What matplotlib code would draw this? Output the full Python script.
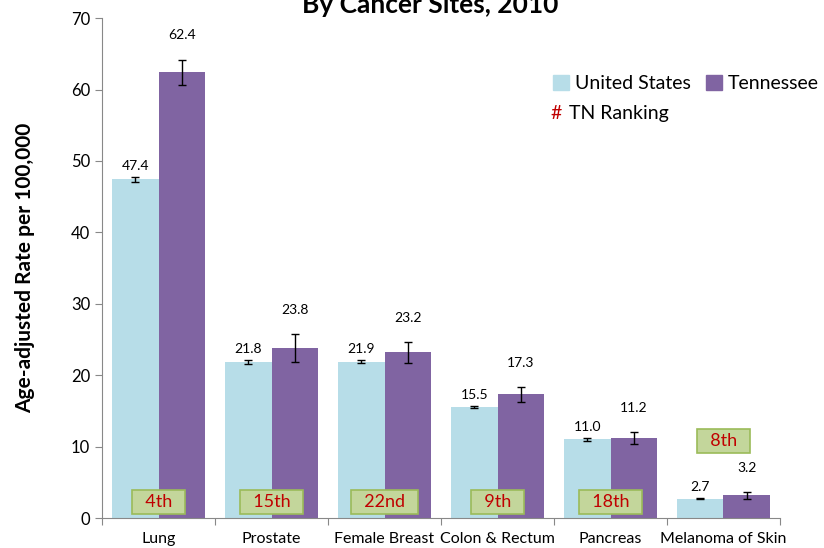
import matplotlib.pyplot as plt
import numpy as np
from matplotlib.patches import Patch

plt.rcParams['font.family'] = ['Lato', 'DejaVu Sans']

sites = ['Lung', 'Prostate', 'Female Breast', 'Colon & Rectum', 'Pancreas', 'Melanoma of Skin']
us_rate = [47.4, 21.8, 21.9, 15.5, 11.0, 2.7]
us_err = [0.3, 0.3, 0.2, 0.15, 0.15, 0.05]
tn_rate = [62.4, 23.8, 23.2, 17.3, 11.2, 3.2]
tn_err = [1.8, 2.0, 1.5, 1.1, 0.8, 0.5]
tn_rank = ['4th', '15th', '22nd', '9th', '18th', '8th']

us_color = '#B7DDE8'
tn_color = '#8064A2'

fig = plt.figure(figsize=(8.24, 5.48), dpi=100)
ax = fig.add_axes([0.1238, 0.0547, 0.8228, 0.9123])

x = np.arange(len(sites))
w = 0.41
ax.bar(x - w/2, us_rate, w, color=us_color, yerr=us_err, capsize=3,
       error_kw=dict(ecolor='black', elinewidth=1, capthick=1))
ax.bar(x + w/2, tn_rate, w, color=tn_color, yerr=tn_err, capsize=3,
       error_kw=dict(ecolor='black', elinewidth=1, capthick=1))

for i in range(len(sites)):
    ax.annotate(f'{us_rate[i]:.1f}', (x[i] - w/2, us_rate[i] + us_err[i]),
                xytext=(0, 4), textcoords='offset points', ha='center', va='bottom', fontsize=10)
    ax.annotate(f'{tn_rate[i]:.1f}', (x[i] + w/2, tn_rate[i] + tn_err[i]),
                xytext=(0, 13), textcoords='offset points', ha='center', va='bottom', fontsize=10)

# TN ranking boxes (melanoma one sits above the bars)
for i, r in enumerate(tn_rank):
    yb = 10.85 if i == len(sites) - 1 else 2.2
    ax.text(x[i], yb, '  ' + r + '  ', ha='center', va='center', color='#C00000', fontsize=13,
            bbox=dict(boxstyle='square,pad=0.22', fc='#C3D69B', ec='#9BBB59', lw=1.2))

ax.set_xlim(-0.5, len(sites) - 0.5)
ax.set_ylim(0, 70)
ax.set_yticks(range(0, 71, 10))
ax.set_xticks(np.arange(-0.5, len(sites), 1))
ax.set_xticklabels([])
ax.set_xticks(x, minor=True)
ax.set_xticklabels(sites, minor=True, fontsize=11.5)
ax.tick_params(axis='x', which='minor', length=0, pad=10)
ax.tick_params(axis='x', which='major', length=5, color='#888888', direction='out')
ax.tick_params(axis='y', length=5, color='#888888', labelsize=12, direction='out')
for s in ['top', 'right']:
    ax.spines[s].set_visible(False)
for s in ['left', 'bottom']:
    ax.spines[s].set_color('#888888')

ax.set_ylabel('Age-adjusted Rate per 100,000', fontsize=15, fontweight='bold', labelpad=26)

fig.text(0.522, 0.99, 'By Cancer Sites, 2010', ha='center', va='center',
         fontsize=19, fontweight='bold')

handles = [Patch(color=us_color, label='United States'), Patch(color=tn_color, label='Tennessee')]
ax.legend(handles=handles, ncol=2, loc='upper left', bbox_to_anchor=(0.64, 0.921),
          frameon=False, fontsize=14, handlelength=0.8, handleheight=0.8,
          handletextpad=0.3, columnspacing=0.8)
fig.text(0.668, 0.793, '#', color='#C00000', fontsize=14, va='center')
fig.text(0.69, 0.793, 'TN Ranking', fontsize=14, va='center')

fig.savefig('out.png', dpi=100)
